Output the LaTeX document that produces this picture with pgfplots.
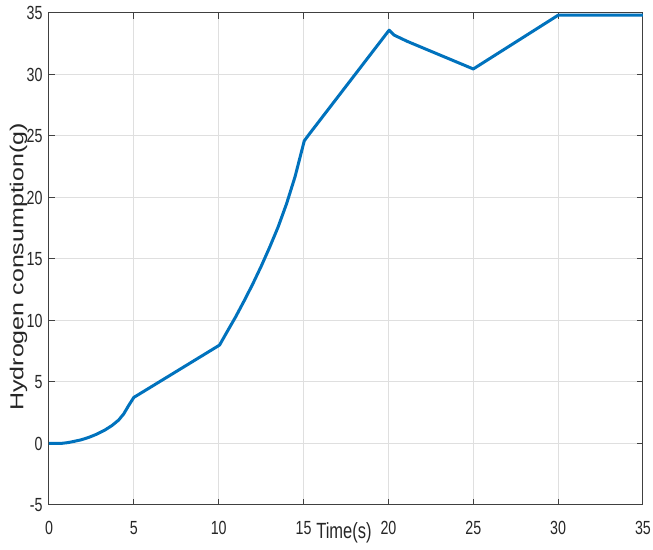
\documentclass[border=0pt]{standalone}
\usepackage{fontspec}
\setmainfont{Liberation Sans}[FakeStretch=0.75]
\newfontfamily\plainsans{Liberation Sans}
\usepackage{graphicx}
\usepackage{pgfplots}
\pgfplotsset{compat=1.18}
\definecolor{matblue}{RGB}{0,114,189}
\definecolor{axgray}{RGB}{64,64,64}
\definecolor{gridgray}{RGB}{223,223,223}
\begin{document}
\fontsize{9}{11}\selectfont
\begin{tikzpicture}
\useasboundingbox (-24.5pt,-22.5pt) rectangle (302pt,252.5pt);
\begin{axis}[
  scale only axis,
  width=297pt, height=246pt,
  xmin=0, xmax=35, ymin=-5, ymax=35,
  xtick={0,5,...,35}, ytick={-5,0,...,35},
  grid=major,
  grid style={gridgray, line width=0.5pt},
  axis line style={axgray, line width=0.5pt},
  tick style={axgray, line width=0.5pt},
  major tick length=2.8pt,
  tick align=inside,
  xtick pos=both, ytick pos=both,
  tick label style={font=\fontsize{9.5}{11}\selectfont, text=black!85},
  xticklabel style={yshift=-5pt},
  /pgf/number format/assume math mode=true,
  xlabel={\fontsize{11}{13}\selectfont Time(s)},
  ylabel={\scalebox{1}[0.75]{\plainsans\fontsize{12.5}{15}\selectfont Hydrogen consumption(g)}},
  label style={text=black!85},
  xlabel style={at={(axis cs:17.38,-5)}, anchor=center, yshift=-14pt},
  ylabel style={at={(axis description cs:-0.0513,0.484)}, anchor=center},
]
\addplot[matblue, line width=1.5pt, line join=round] coordinates {
  (0,0) (0.5,0) (0.8,0.02) (1.1,0.07) (1.4,0.15) (1.9,0.3) (2.35,0.5)
  (2.8,0.75) (3.3,1.1) (3.7,1.45) (4.1,1.9) (4.4,2.4) (4.7,3.1) (5,3.75)
  (5.3,4.0) (10.05,8.0)
  (10.5,9.1) (11,10.3) (11.5,11.6) (12,12.95) (12.5,14.4) (13,15.95)
  (13.5,17.6) (14,19.5) (14.5,21.7) (15.04,24.6)
  (15.25,25.0) (20.04,33.6)
  (20.34,33.2) (21.1,32.7) (25,30.45)
  (30,34.82) (35,34.82)
};
\end{axis}
\end{tikzpicture}
\end{document}
